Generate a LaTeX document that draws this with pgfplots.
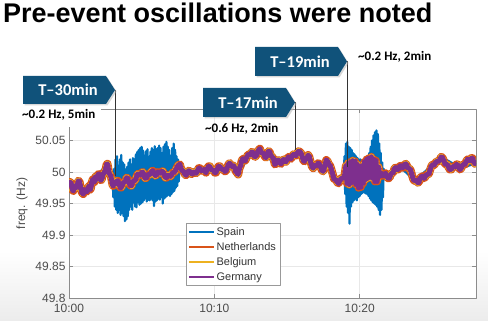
\documentclass[border=0pt]{standalone}
\usepackage{pgfplots}
\pgfplotsset{compat=1.18}
\usepackage{pgfplotstable}
\usepackage{fontspec}
\setmainfont{Liberation Sans}
\newfontfamily\carlito{Carlito}
\definecolor{spainblue}{RGB}{0,114,189}
\definecolor{nlorange}{RGB}{217,83,25}
\definecolor{beyellow}{RGB}{237,177,32}
\definecolor{depurple}{RGB}{126,47,142}
\definecolor{boxblue}{RGB}{16,82,122}

\pgfplotstableread{
t f
0.00 49.978
0.075 49.984
0.15 49.982
0.225 49.972
0.30 49.970
0.375 49.978
0.45 49.975
0.545 49.976
0.64 49.986
0.72 49.985
0.80 49.976
0.89 49.967
0.98 49.965
1.065 49.972
1.15 49.970
1.24 49.969
1.33 49.976
1.39 49.978
1.45 49.972
1.505 49.974
1.56 49.983
1.63 49.988
1.70 49.986
1.745 49.984
1.79 49.991
1.845 49.993
1.90 49.988
1.95 49.989
2.00 49.996
2.06 49.997
2.12 49.991
2.185 49.987
2.25 49.988
2.325 49.996
2.40 49.998
2.495 50.002
2.59 50.012
2.645 50.013
2.70 50.006
2.76 49.998
2.82 49.996
2.885 49.993
2.95 49.985
3.00 49.979
3.05 49.978
3.10 49.983
3.15 49.983
3.215 49.981
3.28 49.986
3.365 49.986
3.45 49.980
3.535 49.975
3.62 49.976
3.71 49.982
3.80 49.984
3.88 49.985
3.96 49.991
4.03 49.990
4.10 49.985
4.20 49.979
4.30 49.978
4.39 49.985
4.48 49.986
4.565 49.987
4.65 49.993
4.735 49.997
4.82 49.996
4.91 49.995
5.00 49.999
5.075 50.000
5.15 49.995
5.245 49.990
5.34 49.991
5.42 49.996
5.50 49.996
5.59 49.996
5.68 50.001
5.765 50.002
5.85 49.998
5.94 49.994
6.03 49.996
6.115 50.000
6.20 49.999
6.285 49.998
6.37 50.001
6.46 50.001
6.55 49.996
6.63 49.991
6.71 49.991
6.805 49.995
6.90 49.994
6.98 49.993
7.06 49.996
7.13 49.999
7.20 49.999
7.30 50.001
7.40 50.006
7.515 50.011
7.63 50.012
7.715 50.005
7.80 50.002
7.885 50.001
7.97 49.996
8.06 49.995
8.15 49.999
8.235 50.002
8.32 50.001
8.41 49.997
8.50 49.997
8.58 50.000
8.66 49.999
8.755 49.998
8.85 50.003
8.925 50.006
9.00 50.006
9.10 50.002
9.20 50.002
9.275 50.004
9.35 50.001
9.425 49.999
9.50 50.005
9.595 50.009
9.69 50.009
9.77 50.004
9.85 50.003
9.94 50.003
10.03 49.999
10.115 49.999
10.20 50.005
10.29 50.009
10.38 50.009
10.465 50.005
10.55 50.004
10.635 50.004
10.72 50.001
10.81 50.002
10.90 50.008
10.985 50.013
11.07 50.014
11.16 50.009
11.25 50.009
11.33 50.010
11.41 50.006
11.465 50.001
11.52 50.000
11.64 49.996
11.75 50.008
11.81 50.010
11.87 50.017
11.96 50.021
12.05 50.019
12.125 50.018
12.20 50.022
12.30 50.027
12.40 50.028
12.48 50.027
12.56 50.032
12.64 50.031
12.72 50.026
12.81 50.024
12.90 50.027
13.015 50.034
13.13 50.037
13.215 50.031
13.30 50.030
13.385 50.030
13.47 50.024
13.56 50.023
13.65 50.029
13.725 50.033
13.80 50.032
13.89 50.026
13.98 50.024
14.07 50.021
14.16 50.012
14.23 50.013
14.30 50.018
14.40 50.019
14.50 50.014
14.59 50.013
14.68 50.018
14.765 50.020
14.85 50.017
14.925 50.016
15.00 50.020
15.095 50.024
15.19 50.022
15.27 50.021
15.35 50.025
15.44 50.028
15.53 50.027
15.615 50.026
15.70 50.030
15.79 50.033
15.88 50.032
15.965 50.030
16.05 50.024
16.125 50.018
16.20 50.017
16.265 50.021
16.33 50.022
16.39 50.023
16.45 50.027
16.535 50.024
16.62 50.016
16.71 50.009
16.80 50.006
16.875 50.010
16.95 50.010
17.04 50.010
17.13 50.014
17.215 50.013
17.30 50.008
17.39 50.003
17.48 50.001
17.54 50.004
17.60 50.010
17.70 50.019
17.79 50.017
17.88 50.012
17.965 50.010
18.05 50.004
18.15 49.996
18.215 49.990
18.28 49.988
18.365 49.988
18.45 49.984
18.54 49.982
18.63 49.986
18.715 49.990
18.80 49.990
18.885 49.991
18.97 49.996
19.05 50.010
19.12 49.982
19.20 50.014
19.28 49.980
19.36 50.016
19.44 49.983
19.52 50.018
19.60 49.985
19.68 50.017
19.76 49.980
19.84 50.012
19.92 49.975
20.00 50.008
20.08 49.976
20.16 50.010
20.24 49.982
20.32 50.016
20.40 49.988
20.48 50.020
20.56 49.990
20.64 50.022
20.72 49.992
20.80 50.024
20.88 49.990
20.96 50.020
21.04 49.985
21.12 50.018
21.20 49.985
21.30 50.008
21.37 49.993
21.435 49.998
21.50 49.998
21.60 49.994
21.70 49.996
21.775 49.998
21.85 49.993
21.955 49.990
22.06 49.991
22.13 49.996
22.20 49.998
22.30 49.999
22.40 50.006
22.475 50.007
22.55 50.004
22.65 50.004
22.75 50.009
22.825 50.010
22.90 50.007
23.00 50.007
23.10 50.012
23.175 50.013
23.25 50.010
23.325 50.006
23.40 50.006
23.50 50.003
23.60 49.995
23.69 49.988
23.78 49.986
23.89 49.987
24.00 49.983
24.075 49.984
24.15 49.990
24.25 49.993
24.35 49.993
24.425 49.990
24.50 49.992
24.60 49.996
24.70 49.996
24.775 49.998
24.85 50.004
24.945 50.010
25.04 50.012
25.12 50.011
25.20 50.014
25.29 50.017
25.38 50.017
25.49 50.018
25.60 50.024
25.69 50.023
25.78 50.018
25.87 50.013
25.96 50.012
26.03 50.012
26.10 50.008
26.20 50.004
26.30 50.004
26.39 50.008
26.48 50.009
26.565 50.008
26.65 50.012
26.725 50.012
26.80 50.008
26.895 50.004
26.99 50.006
27.07 50.011
27.15 50.012
27.24 50.012
27.33 50.017
27.415 50.020
27.50 50.019
27.585 50.018
27.67 50.022
27.76 50.022
27.85 50.016
27.925 50.013
28.00 50.014
}\centerdata

\pgfplotstableread{
t f
0.00 49.978
0.64 49.986
0.98 49.965
1.56 49.983
2.00 49.996
2.59 50.012
2.82 49.996
3.00 49.990
3.05 49.960
3.10 50.005
3.15 49.945
3.20 50.020
3.25 49.940
3.30 50.025
3.35 49.935
3.40 50.010
3.45 49.940
3.50 50.020
3.55 49.932
3.60 50.027
3.65 49.935
3.70 50.015
3.75 49.930
3.80 50.012
3.85 49.922
3.90 50.004
3.95 49.925
4.00 50.008
4.05 49.930
4.10 50.015
4.15 49.940
4.20 50.020
4.25 49.945
4.30 50.012
4.35 49.940
4.40 50.022
4.45 49.952
4.50 50.020
4.55 49.945
4.60 50.028
4.65 49.944
4.70 50.032
4.75 49.952
4.80 50.035
4.85 49.948
4.90 50.038
4.95 49.950
5.00 50.040
5.05 49.952
5.10 50.034
5.15 49.955
5.20 50.026
5.25 49.958
5.30 50.033
5.35 49.953
5.40 50.036
5.45 49.956
5.50 50.024
5.55 49.955
5.60 50.032
5.65 49.958
5.70 50.038
5.75 49.955
5.80 50.035
5.85 49.946
5.90 50.041
5.95 49.953
6.00 50.036
6.05 49.955
6.10 50.038
6.15 49.958
6.20 50.042
6.25 49.956
6.30 50.038
6.35 49.960
6.40 50.030
6.45 49.950
6.50 50.040
6.55 49.958
6.60 50.044
6.65 49.960
6.70 50.048
6.75 49.962
6.80 50.040
6.85 49.964
6.90 50.035
6.95 49.962
7.00 50.026
7.05 49.965
7.10 50.038
7.15 49.968
7.20 50.045
7.25 49.970
7.30 50.035
7.35 49.975
7.40 50.025
7.45 49.978
7.50 50.020
7.55 49.985
7.60 50.012
7.70 50.005
8.32 50.001
9.00 50.006
10.03 49.999
11.07 50.014
11.64 49.996
12.56 50.032
13.13 50.037
14.16 50.012
15.53 50.027
15.88 50.032
16.80 50.006
17.70 50.019
18.28 49.988
18.80 49.990
18.85 50.000
18.90 49.985
18.95 50.025
19.00 49.965
19.05 50.045
19.10 49.945
19.15 50.048
19.20 49.935
19.25 50.040
19.30 49.918
19.35 50.038
19.40 49.945
19.45 50.035
19.50 49.952
19.55 50.030
19.60 49.955
19.65 50.028
19.70 49.958
19.75 50.025
19.80 49.955
19.85 50.022
19.90 49.960
19.95 50.020
20.00 49.962
20.05 50.020
20.10 49.965
20.15 50.018
20.20 49.967
20.25 50.017
20.30 49.968
20.35 50.016
20.40 49.966
20.45 50.017
20.50 49.965
20.55 50.020
20.60 49.962
20.65 50.030
20.70 49.958
20.75 50.040
20.80 49.955
20.85 50.050
20.90 49.952
20.95 50.058
21.00 49.950
21.05 50.063
21.10 49.948
21.15 50.066
21.20 49.945
21.25 50.060
21.30 49.940
21.35 50.045
21.40 49.932
21.45 50.030
21.50 49.940
21.55 50.015
21.60 49.960
21.65 50.005
21.70 49.990
21.85 49.993
22.75 50.009
23.78 49.986
25.04 50.012
25.60 50.024
26.99 50.006
28.00 50.014
}\spaindata

\begin{document}
\begin{tikzpicture}
\useasboundingbox (0pt,0pt) rectangle (488pt,321pt);
\shade[top color=white, bottom color=gray!15] (0pt,0pt) rectangle (488pt,70pt);
\begin{axis}[
  at={(69pt,23pt)}, anchor=south west,
  scale only axis, width=407pt, height=189pt,
  xmin=0, xmax=28, ymin=49.8, ymax=50.1,
  axis background/.style={fill=white},
  xtick={0,10,20}, xticklabels={10:00,10:10,10:20},
  ytick={49.8,49.85,49.9,49.95,50,50.05},
  yticklabels={49.8,49.85,49.9,49.95,50,50.05},
  /pgf/number format/assume math mode=true,
  ticklabel style={font=\fontsize{12}{14}\selectfont, text=black!70},
  xticklabel style={yshift=-2.5pt},
  axis line style={black!45, line width=0.6pt},
  tick style={black!45, line width=0.5pt},
  tick align=inside, major tick length=4pt,
  grid=major, major grid style={black!9, line width=0.5pt},
  ylabel={freq. (Hz)},
  ylabel style={at={(axis description cs:-0.1155,0.5)}, anchor=center, font=\fontsize{12}{14}\selectfont, text=black!70},
  legend image code/.code={\draw[#1] (0pt,0pt) -- (25pt,0pt);},
  legend cell align=left,
  legend style={at={(0.287,0.397)}, anchor=north west, draw=black!40, fill=white,
    font=\fontsize{11}{12}\selectfont, text=black!80, inner xsep=2pt, inner ysep=2pt, row sep=1.6pt},
  line join=round,
]
\addlegendimage{draw=spainblue, line width=1.6pt}
\addlegendentry{Spain}
\addlegendimage{draw=nlorange, line width=1.6pt}
\addlegendentry{Netherlands}
\addlegendimage{draw=beyellow, line width=1.6pt}
\addlegendentry{Belgium}
\addlegendimage{draw=depurple, line width=1.6pt}
\addlegendentry{Germany}
\addplot[draw=spainblue, line width=2.2pt, forget plot] table[x=t,y=f] {\spaindata};
\addplot[draw=nlorange, line width=8pt, forget plot] table[x=t,y=f] {\centerdata};
\addplot[draw=beyellow, line width=6.5pt, dash pattern=on 1.5pt off 2pt, forget plot] table[x=t,y=f] {\centerdata};
\addplot[draw=depurple, line width=5pt, forget plot] table[x=t,y=f] {\centerdata};
\end{axis}
\begin{scope}[x=1pt,y=1pt]
% title
\node[anchor=base west, inner sep=0pt, font=\bfseries\fontsize{27}{30}\selectfont] at (3,298) {Pre-event oscillations were noted};
% white cover behind first note
\fill[white] (19,194) rectangle (101,216);
% connector lines
\draw[line width=0.9pt, black!80] (115,231) -- (115,145);
\draw[line width=0.9pt, black!80] (295,218.5) -- (295,171);
\draw[line width=0.9pt, black!80] (347,259.5) -- (347,154);
% boxes
\fill[black!30, opacity=0.5] (24.5,243.5) -- (107.5,243.5) -- (116.5,229.5) -- (107.5,215.5) -- (24.5,215.5) -- cycle;
\fill[boxblue] (23,245) -- (106,245) -- (115,231) -- (106,217) -- (23,217) -- cycle;
\node[white, font=\carlito\bfseries\fontsize{16.5}{18}\selectfont] at (68,231) {T\textendash30min};
\fill[black!30, opacity=0.5] (204.5,231.5) -- (287.5,231.5) -- (296.5,217) -- (287.5,202.5) -- (204.5,202.5) -- cycle;
\fill[boxblue] (203,233) -- (286,233) -- (295,218.5) -- (286,204) -- (203,204) -- cycle;
\node[white, font=\carlito\bfseries\fontsize{16.5}{18}\selectfont] at (248,218.5) {T\textendash17min};
\fill[black!30, opacity=0.5] (256.5,272.5) -- (339.5,272.5) -- (348.5,258) -- (339.5,243.5) -- (256.5,243.5) -- cycle;
\fill[boxblue] (255,274) -- (338,274) -- (347,259.5) -- (338,245) -- (255,245) -- cycle;
\node[white, font=\carlito\bfseries\fontsize{16.5}{18}\selectfont] at (300,259.5) {T\textendash19min};
% notes
\node[anchor=west, inner sep=0pt, font=\carlito\bfseries\fontsize{13}{15}\selectfont] at (22,206) {\textasciitilde0.2 Hz, 5min};
\node[anchor=west, inner sep=0pt, font=\carlito\bfseries\fontsize{13}{15}\selectfont] at (205,192) {\textasciitilde0.6 Hz, 2min};
\node[anchor=west, inner sep=0pt, font=\carlito\bfseries\fontsize{13}{15}\selectfont] at (358,264) {\textasciitilde0.2 Hz, 2min};
\end{scope}
\end{tikzpicture}
\end{document}
